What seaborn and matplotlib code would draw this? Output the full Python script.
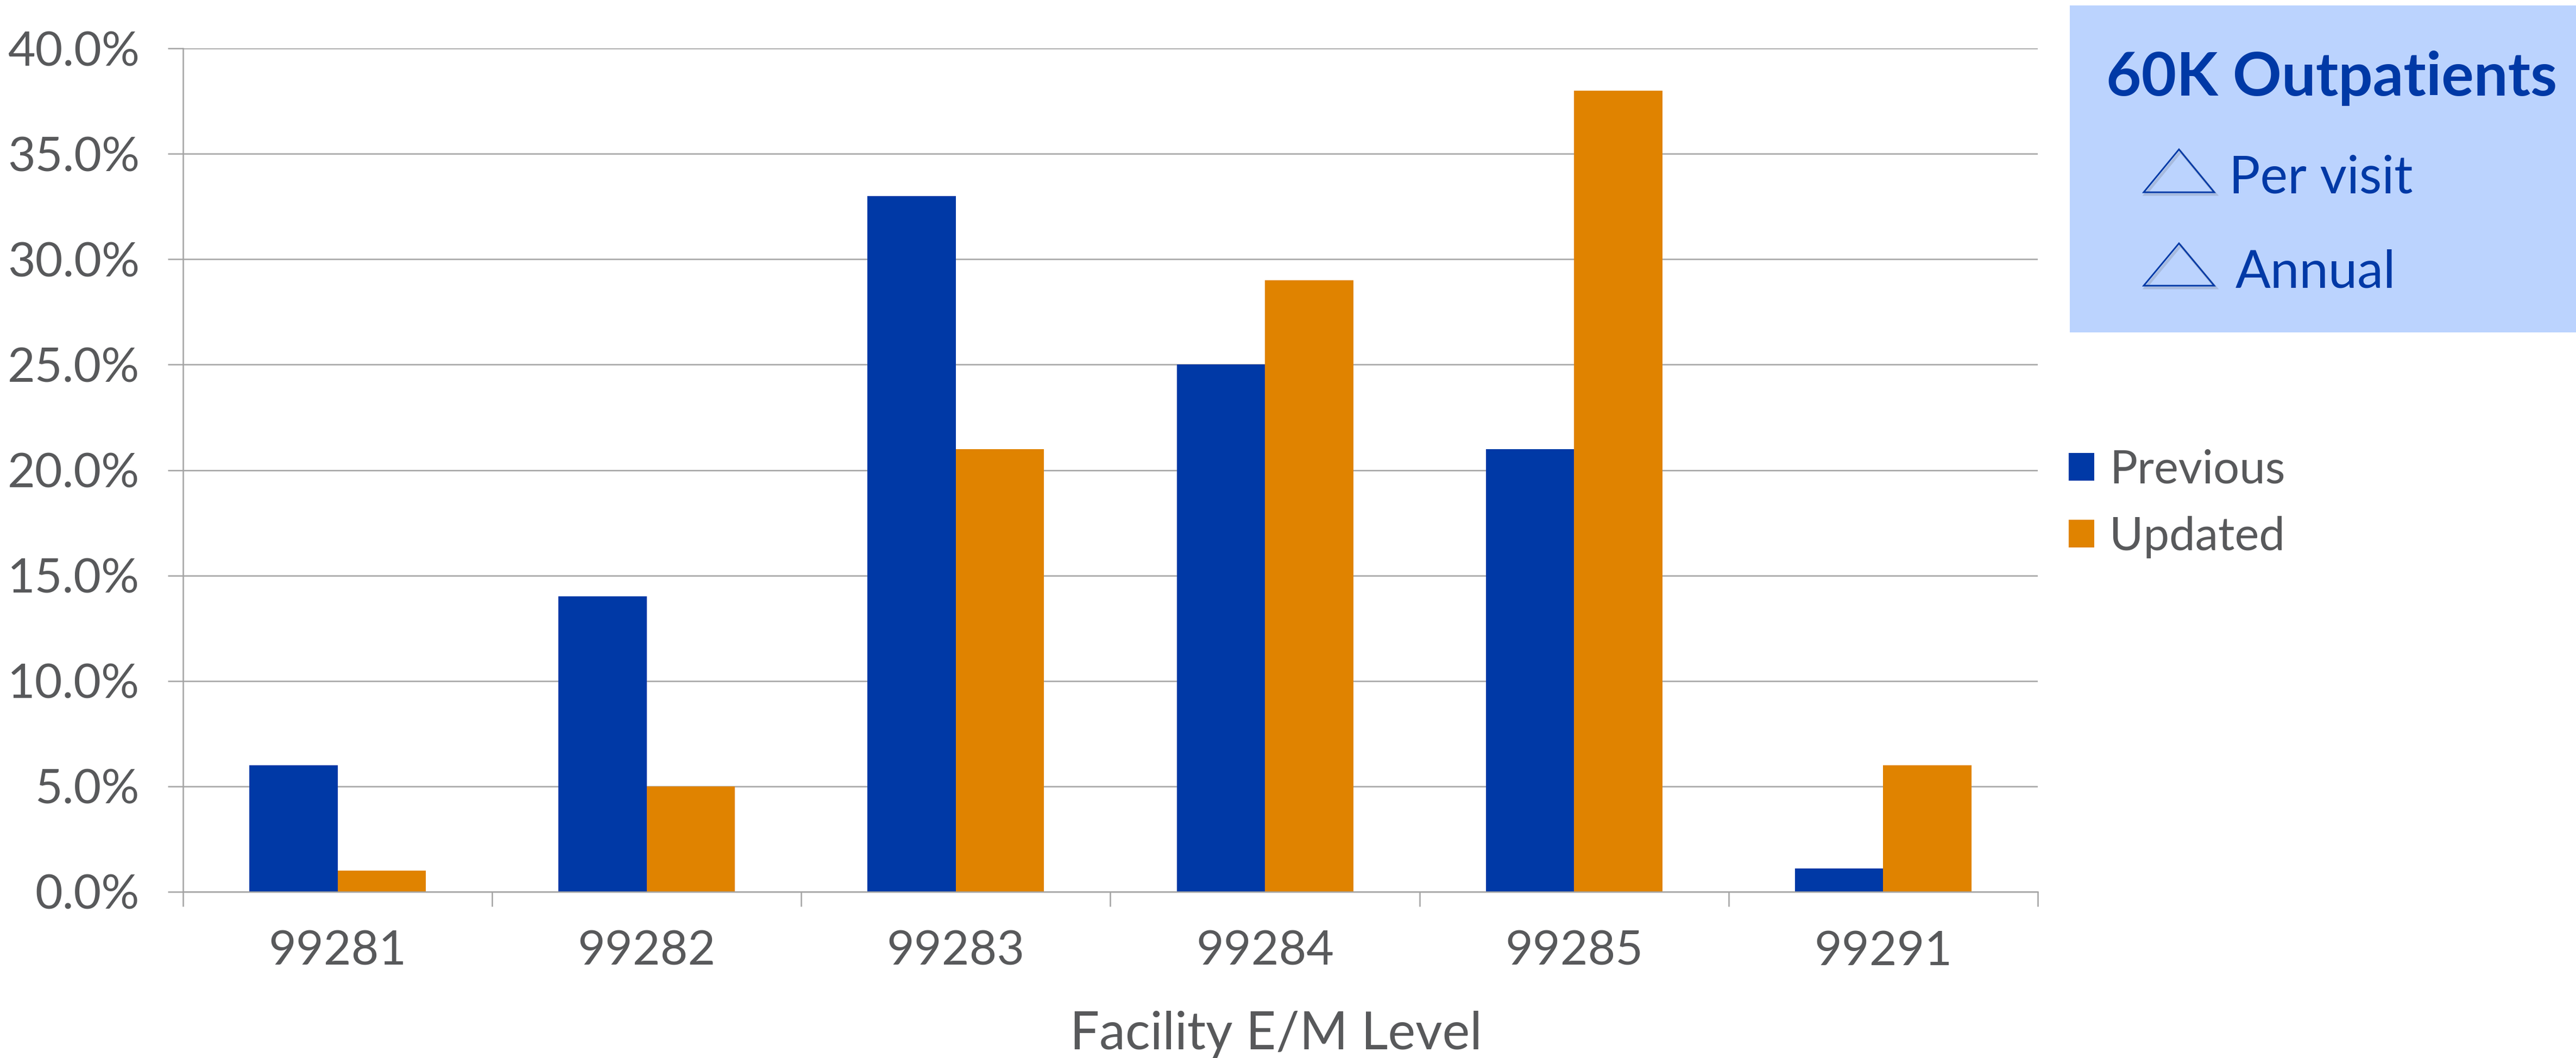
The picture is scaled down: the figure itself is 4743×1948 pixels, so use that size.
import matplotlib
matplotlib.use("Agg")
import matplotlib.pyplot as plt
from matplotlib.patches import Rectangle, Polygon, Patch
from matplotlib.ticker import FuncFormatter, FixedLocator
import pandas as pd
import seaborn as sns

# E/M levels and the share of visits at each level
levels = ["99281", "99282", "99283", "99284", "99285", "99291"]
previous = [6.0, 14.0, 33.0, 25.0, 21.0, 1.1]
updated = [1.0, 5.0, 21.0, 29.0, 38.0, 6.0]
series_names = ["Previous", "Updated"]
y_ticks = [0, 5, 10, 15, 20, 25, 30, 35, 40]

box_title = "60K Outpatients"
box_items = ["Per visit", "Annual"]
x_title = "Facility E/M Level"

BLUE = "#0039A6"
ORANGE = "#E08300"
TEXT = "#58595B"
GRID = "#A3A3A3"
BOX = "#BBD3FE"

df = pd.DataFrame({
    "level": levels * 2,
    "share": previous + updated,
    "series": [series_names[0]] * len(levels) + [series_names[1]] * len(levels),
})

sns.set_theme(style="white")
plt.rcParams["font.family"] = ["Lato", "DejaVu Sans"]

W, H, DPI = 4743, 1948, 300
fig = plt.figure(figsize=(W / DPI, H / DPI), dpi=DPI)
ax = fig.add_axes([337 / W, 1 - 1642 / H, (3752 - 337) / W, (1642 - 89) / H])

sns.barplot(data=df, x="level", y="share", hue="series", order=levels,
            hue_order=series_names, palette=[BLUE, ORANGE], width=0.571,
            gap=0, saturation=1, linewidth=0, ax=ax, legend=True)

ax.set_xlim(-0.5, len(levels) - 0.5)
ax.set_ylim(0, 40)
ax.yaxis.set_major_locator(FixedLocator(y_ticks))
ax.yaxis.set_major_formatter(FuncFormatter(lambda v, p: f"{v:.1f}%"))
ax.grid(axis="y", color=GRID, linewidth=0.6)
ax.grid(axis="x", visible=False)
ax.set_axisbelow(True)

for side in ["top", "right"]:
    ax.spines[side].set_visible(False)
for side in ["left", "bottom"]:
    ax.spines[side].set_color(GRID)
    ax.spines[side].set_linewidth(0.6)

# y ticks stick out to the left of the axis
ax.tick_params(axis="y", which="major", direction="out", length=6.7, width=0.6,
               color=GRID, labelsize=21, labelcolor=TEXT, pad=12.5, left=True)
# x labels at category centres, tick marks on the category boundaries
ax.tick_params(axis="x", which="major", length=0, labelsize=21, labelcolor=TEXT, pad=17)
ax.set_xticks([i - 0.5 for i in range(len(levels) + 1)], minor=True)
ax.tick_params(axis="x", which="minor", direction="out", length=6.5, width=0.6,
               color=GRID, bottom=True)

ax.set_ylabel("")
ax.set_xlabel(x_title, fontsize=23, color=TEXT)
ax.xaxis.set_label_coords((2349 - 337) / (3752 - 337), -(1932 - 1642) / (1642 - 89))
ax.xaxis.label.set_va("baseline")

# legend to the right of the plot
handles = [Patch(facecolor=BLUE, edgecolor="none"), Patch(facecolor=ORANGE, edgecolor="none")]
ax.get_legend().remove()
fig.legend(handles, series_names, loc="center left",
           bbox_to_anchor=(3809 / W, 1 - 927 / H), frameon=False,
           fontsize=20.4, labelcolor=TEXT, handlelength=0.55, handleheight=0.55,
           handletextpad=0.33, labelspacing=0.53, borderpad=0, borderaxespad=0)

# callout box in the top-right corner
fig.patches.append(Rectangle((3811 / W, 1 - 612 / H), 1 - 3811 / W, (612 - 10) / H,
                             transform=fig.transFigure, facecolor=BOX, edgecolor="none",
                             zorder=0))
fig.text(3878 / W, 1 - 176 / H, box_title, fontsize=26.8, fontweight="bold",
         color=BLUE, ha="left", va="baseline")
for label, x0, base, tri_top, tri_bot in [
    (box_items[0], 4104, 356, 275, 354),
    (box_items[1], 4116, 530, 448, 526),
]:
    fig.text(x0 / W, 1 - base / H, label, fontsize=23, color=BLUE,
             ha="left", va="baseline")
    for dx, dy, col, lw in [(3, -4, "#9AAAC8", 1.2), (0, 0, BLUE, 0.7)]:
        tri = Polygon([((3947 + dx) / W, 1 - (tri_bot - dy) / H),
                       ((4077 + dx) / W, 1 - (tri_bot - dy) / H),
                       ((4012 + dx) / W, 1 - (tri_top - dy) / H)],
                      closed=True, fill=False, edgecolor=col, linewidth=lw,
                      transform=fig.transFigure, alpha=0.6 if dx else 1)
        fig.patches.append(tri)

fig.savefig("out.png", dpi=DPI, facecolor="white")
